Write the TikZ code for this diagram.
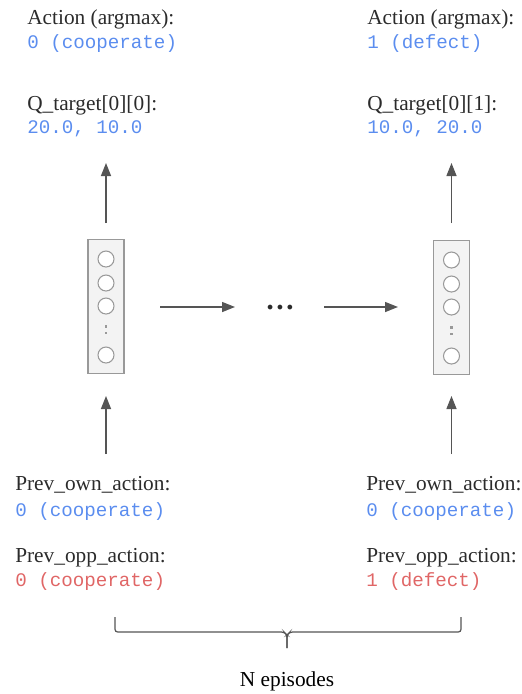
\documentclass[tikz,border=0pt]{standalone}
\usepackage{fontspec}
\setmainfont{Liberation Serif}
\setmonofont{Liberation Mono}
\usetikzlibrary{arrows.meta}
\definecolor{txtdark}{HTML}{2B2B2B}
\definecolor{valblue}{HTML}{5B8DEF}
\definecolor{valred}{HTML}{E06666}
\definecolor{arrgray}{HTML}{555555}
\definecolor{boxfill}{HTML}{F3F3F3}
\definecolor{boxdraw}{HTML}{999999}
\begin{document}
\begin{tikzpicture}[x=0.75pt,y=-0.75pt,
  lbl/.style={anchor=base west,inner sep=0pt,text=txtdark,font=\fontsize{16}{18}\selectfont},
  bval/.style={anchor=base west,inner sep=0pt,text=valblue,font=\ttfamily\fontsize{14.4}{17}\selectfont},
  rval/.style={anchor=base west,inner sep=0pt,text=valred,font=\ttfamily\fontsize{14.4}{17}\selectfont},
  netbox/.style={draw=boxdraw,fill=boxfill,line width=0.8pt,minimum width=36*0.75pt,minimum height=134*0.75pt,inner sep=0pt},
  neuron/.style={circle,draw=boxdraw,fill=white,line width=0.8pt,minimum size=16*0.75pt,inner sep=0pt},
  ndot/.style={fill=boxdraw,minimum size=2.2*0.75pt,inner sep=0pt},
  arr/.style={draw=arrgray,line width=1.1pt,-{Triangle[length=9.75pt,width=7.5pt]}},
  brace/.style={draw=arrgray,line width=0.9pt,rounded corners=2pt}
]
\useasboundingbox (0,0) rectangle (522,694);

% top labels
\node[lbl]  (act1)  at (27,24.5) {Action (argmax):};
\node[bval] (act1v) at (27,48)   {0 (cooperate)};
\node[lbl]  (q1)    at (27,110)  {Q\_target[0][0]:};
\node[bval] (q1v)   at (27,133)  {20.0, 10.0};
\node[lbl]  (act2)  at (367,24.5){Action (argmax):};
\node[bval] (act2v) at (367,48)  {1 (defect)};
\node[lbl]  (q2)    at (367,110) {Q\_target[0][1]:};
\node[bval] (q2v)   at (367,133) {10.0, 20.0};

% networks
\node[netbox] (net1) at (106,306.5) {};
\node[netbox] (net2) at (451.5,307.5) {};
\foreach \n/\cx/\cy in {net1/106/0, net2/451.5/1}{
  \node[neuron] (\n a) at (\cx,259+\cy) {};
  \node[neuron] (\n b) at (\cx,283+\cy) {};
  \node[neuron] (\n c) at (\cx,306+\cy) {};
  \node[ndot]   (\n d) at (\cx,326.5+\cy) {};
  \node[ndot]   (\n e) at (\cx,333+\cy) {};
  \node[neuron] (\n f) at (\cx,355+\cy) {};
}

% ellipsis
\node[inner sep=0pt,anchor=base,text=txtdark,font=\bfseries\fontsize{22}{22}\selectfont] (dots) at (280,309.5) {…};

% arrow end points
\coordinate (h1s) at (160,307);
\coordinate (h1e) at (235,307);
\coordinate (h2s) at (324,307);
\coordinate (h2e) at (398,307);
\coordinate (u1s) at (106,223);
\coordinate (u1e) at (106,163);
\coordinate (u2s) at (451.5,223);
\coordinate (u2e) at (451.5,163);
\coordinate (d1s) at (106,454);
\coordinate (d1e) at (106,396);
\coordinate (d2s) at (451.5,454);
\coordinate (d2e) at (451.5,396);

\draw[arr] (h1s) -- (h1e);
\draw[arr] (h2s) -- (h2e);
\draw[arr] (u1s) -- (u1e);
\draw[arr] (u2s) -- (u2e);
\draw[arr] (d1s) -- (d1e);
\draw[arr] (d2s) -- (d2e);

% bottom labels
\node[lbl]  (own1)  at (15,490)  {Prev\_own\_action:};
\node[bval] (own1v) at (15,516)  {0 (cooperate)};
\node[lbl]  (opp1)  at (15,562){Prev\_opp\_action:};
\node[rval] (opp1v) at (15,586)  {0 (cooperate)};
\node[lbl]  (own2)  at (366,490) {Prev\_own\_action:};
\node[bval] (own2v) at (366,516) {0 (cooperate)};
\node[lbl]  (opp2)  at (366,562){Prev\_opp\_action:};
\node[rval] (opp2v) at (366,586) {1 (defect)};

% brace
\coordinate (bl) at (115,617);
\coordinate (br) at (461,617);
\coordinate (bt) at (287,648);
\draw[brace] (bl) -- (115,632) -- (284,632) -- (287,635) -- (bt);
\draw[brace] (br) -- (461,632) -- (290,632) -- (287,635) -- (bt);

\node[anchor=base,inner sep=0pt,text=black,font=\fontsize{16}{18}\selectfont] (neps) at (287,686) {N episodes};
\end{tikzpicture}
\end{document}
